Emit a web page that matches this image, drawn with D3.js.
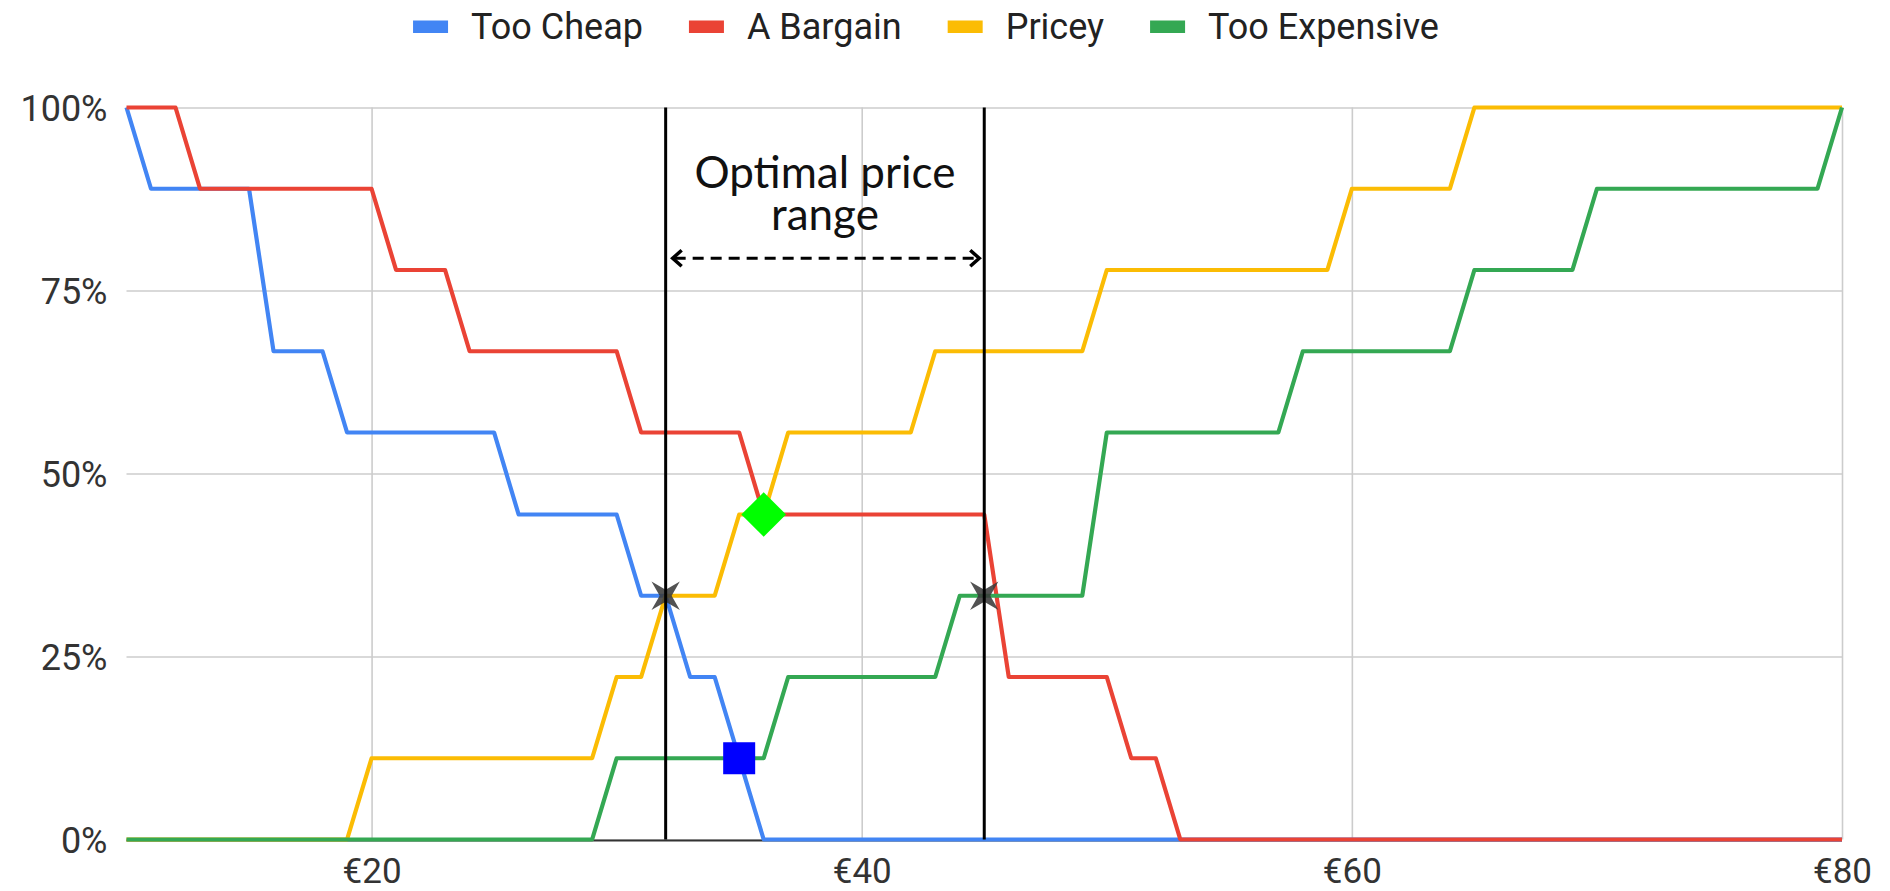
<!DOCTYPE html>
<html>
<head>
<meta charset="utf-8">
<script src="https://cdn.jsdelivr.net/npm/d3@7"></script>
<style>
  html, body { margin: 0; padding: 0; background: #ffffff; }
  svg { display: block; }
</style>
</head>
<body>
<svg id="chart" width="1890" height="891"></svg>
<script>
// ---------- DATA ----------
const prices = [10,11,12,13,14,15,16,17,18,19,20,21,22,23,24,25,26,27,28,29,30,
  31,32,33,34,35,36,37,38,39,40,41,42,43,44,45,46,47,48,49,50,
  51,52,53,54,55,56,57,58,59,60,61,62,63,64,65,66,67,68,69,70,
  71,72,73,74,75,76,77,78,79,80];

const tooCheap = [100,88.9,88.9,88.9,88.9,88.9,66.7,66.7,66.7,55.6,55.6,55.6,55.6,55.6,55.6,55.6,
  44.4,44.4,44.4,44.4,44.4,33.3,33.3,22.2,22.2,11.1,
  0,0,0,0,0,0,0,0,0,0,0,0,0,0,0,0,0,0,0,0,0,0,0,0,0,0,0,0,0,0,0,0,0,0,0,0,0,0,0,0,0,0,0,0,0];

const aBargain = [100,100,100,88.9,88.9,88.9,88.9,88.9,88.9,88.9,88.9,77.8,77.8,77.8,
  66.7,66.7,66.7,66.7,66.7,66.7,66.7,55.6,55.6,55.6,55.6,55.6,
  44.4,44.4,44.4,44.4,44.4,44.4,44.4,44.4,44.4,44.4,22.2,22.2,22.2,22.2,22.2,11.1,11.1,
  0,0,0,0,0,0,0,0,0,0,0,0,0,0,0,0,0,0,0,0,0,0,0,0,0,0,0,0];

const pricey = [0,0,0,0,0,0,0,0,0,0,11.1,11.1,11.1,11.1,11.1,11.1,11.1,11.1,11.1,11.1,
  22.2,22.2,33.3,33.3,33.3,44.4,44.4,55.6,55.6,55.6,55.6,55.6,55.6,
  66.7,66.7,66.7,66.7,66.7,66.7,66.7,77.8,77.8,77.8,77.8,77.8,77.8,77.8,77.8,77.8,77.8,
  88.9,88.9,88.9,88.9,88.9,100,100,100,100,100,100,100,100,100,100,100,100,100,100,100,100];

const tooExpensive = [0,0,0,0,0,0,0,0,0,0,0,0,0,0,0,0,0,0,0,0,
  11.1,11.1,11.1,11.1,11.1,11.1,11.1,22.2,22.2,22.2,22.2,22.2,22.2,22.2,
  33.3,33.3,33.3,33.3,33.3,33.3,55.6,55.6,55.6,55.6,55.6,55.6,55.6,55.6,
  66.7,66.7,66.7,66.7,66.7,66.7,66.7,77.8,77.8,77.8,77.8,77.8,
  88.9,88.9,88.9,88.9,88.9,88.9,88.9,88.9,88.9,88.9,100];

const seriesNames = ["Too Cheap", "A Bargain", "Pricey", "Too Expensive"];
const seriesColors = ["#4285F4", "#EA4335", "#FBBC04", "#34A853"];
const seriesValues = [tooCheap, aBargain, pricey, tooExpensive];

const yTicks = [0, 25, 50, 75, 100];
const yTickLabels = ["0%", "25%", "50%", "75%", "100%"];
const xTicks = [20, 40, 60, 80];
const xTickLabels = ["€20", "€40", "€60", "€80"];

// markers: intersection points
const starPoints = [{price: 32, value: 33.3}, {price: 45, value: 33.3}];
const diamondPoint = {price: 36, value: 44.4};
const squarePoint = {price: 35, value: 11.1};
const rangeBounds = [32, 45];
const rangeArrowValue = 79.4;
const annotationText = "Optimal price\nrange";

// ---------- LAYOUT ----------
const svg = d3.select("#chart");
const plot = {left: 126.5, right: 1842, top: 107.5, bottom: 839.5};

const x = d3.scaleLinear().domain([10, 80]).range([plot.left, plot.right]);
const y = d3.scaleLinear().domain([0, 100]).range([plot.bottom, plot.top]);

const FONT = "Roboto, 'Liberation Sans', Arial, sans-serif";

// gridlines
const gH = svg.append("g").attr("transform", `translate(${plot.left},0)`)
  .call(d3.axisLeft(y).tickValues(yTicks).tickSize(-(plot.right - plot.left)).tickFormat(""));
gH.select(".domain").remove();
gH.selectAll("line").attr("stroke", "#cccccc").attr("stroke-width", 1.6);

const gV = svg.append("g").attr("transform", `translate(0,${plot.bottom})`)
  .call(d3.axisBottom(x).tickValues(xTicks).tickSize(-(plot.bottom - plot.top)).tickFormat(""));
gV.select(".domain").remove();
gV.selectAll("line").attr("stroke", "#cccccc").attr("stroke-width", 1.6);

// baseline
svg.append("line")
  .attr("x1", plot.left).attr("x2", plot.right)
  .attr("y1", y(0) + 1).attr("y2", y(0) + 1)
  .attr("stroke", "#333333").attr("stroke-width", 2.2);

// axis labels
const yAxis = svg.append("g").attr("transform", `translate(${plot.left - 19},0)`)
  .call(d3.axisLeft(y).tickValues(yTicks).tickSize(0)
    .tickFormat((d, i) => yTickLabels[yTicks.indexOf(d)]));
yAxis.select(".domain").remove();
yAxis.selectAll("text")
  .attr("x", 0).attr("dy", "0.35em")
  .attr("fill", "#333333")
  .style("font-family", FONT).style("font-size", "36px");

const xAxis = svg.append("g").attr("transform", `translate(0,${plot.bottom})`)
  .call(d3.axisBottom(x).tickValues(xTicks).tickSize(0)
    .tickFormat(d => xTickLabels[xTicks.indexOf(d)]));
xAxis.select(".domain").remove();
xAxis.selectAll("text")
  .attr("y", 43).attr("dy", "0")
  .attr("fill", "#333333")
  .style("font-family", FONT).style("font-size", "35px");

// series lines
const line = d3.line().x(d => x(d[0])).y(d => y(d[1]));
seriesValues.forEach((vals, i) => {
  const pts = prices.map((p, j) => [p, vals[j]]);
  svg.append("path")
    .datum(pts)
    .attr("d", line)
    .attr("fill", "none")
    .attr("stroke", seriesColors[i])
    .attr("stroke-width", 4.2)
    .attr("stroke-linejoin", "round");
});

// star markers (X-shaped four point star)
function xStar(cx, cy, R, r) {
  const pts = [];
  for (let k = 0; k < 8; k++) {
    const ang = Math.PI / 4 + k * Math.PI / 4;
    const rad = k % 2 === 0 ? R : r;
    pts.push([cx + rad * Math.cos(ang), cy + rad * Math.sin(ang)]);
  }
  return "M" + pts.map(p => p.join(",")).join("L") + "Z";
}
svg.selectAll(".star").data(starPoints).enter().append("path")
  .attr("class", "star")
  .attr("d", d => xStar(x(d.price), y(d.value), 20, 6))
  .attr("fill", "#3a3a3a").attr("opacity", 0.88);

// diamond
svg.append("path")
  .attr("d", d3.symbol().type(d3.symbolSquare).size(1000)())
  .attr("transform", `translate(${x(diamondPoint.price)},${y(diamondPoint.value)}) rotate(45)`)
  .attr("fill", "#00ff00");

// square
svg.append("rect")
  .attr("x", x(squarePoint.price) - 16).attr("y", y(squarePoint.value) - 16)
  .attr("width", 32).attr("height", 32)
  .attr("fill", "#0000ff");

// vertical range lines
svg.selectAll(".vline").data(rangeBounds).enter().append("line")
  .attr("x1", d => x(d)).attr("x2", d => x(d))
  .attr("y1", y(100)).attr("y2", y(0))
  .attr("stroke", "#000000").attr("stroke-width", 3);

// dashed double arrow
const ay = y(rangeArrowValue);
const ax1 = x(rangeBounds[0]) + 7, ax2 = x(rangeBounds[1]) - 5;
svg.append("line")
  .attr("x1", ax1 + 2).attr("x2", ax2 - 2)
  .attr("y1", ay).attr("y2", ay)
  .attr("stroke", "#000").attr("stroke-width", 3)
  .attr("stroke-dasharray", "11,7");
svg.append("path")
  .attr("d", `M${ax1 + 9},${ay - 8}L${ax1},${ay}L${ax1 + 9},${ay + 8}`)
  .attr("fill", "none").attr("stroke", "#000").attr("stroke-width", 3.5);
svg.append("path")
  .attr("d", `M${ax2 - 9},${ay - 8}L${ax2},${ay}L${ax2 - 9},${ay + 8}`)
  .attr("fill", "none").attr("stroke", "#000").attr("stroke-width", 3.5);

// annotation text (single wrapped text block)
const fo = svg.append("foreignObject")
  .attr("x", x(rangeBounds[0])).attr("y", ay - 118)
  .attr("width", x(rangeBounds[1]) - x(rangeBounds[0])).attr("height", 100)
  .style("overflow", "visible");
fo.append("xhtml:div")
  .style("font-family", "Lato, 'Open Sans', sans-serif")
  .style("font-size", "44px")
  .style("line-height", "42px")
  .style("padding-top", "10px")
  .style("text-align", "center")
  .style("white-space", "pre-line")
  .style("color", "#111")
  .style("margin", "0")
  .text(annotationText);

// legend
const legend = svg.append("g");
let lx = 0;
seriesNames.forEach((name, i) => {
  const g = legend.append("g");
  g.append("rect").attr("x", lx).attr("y", 20.5).attr("width", 35).attr("height", 12.5)
    .attr("fill", seriesColors[i]);
  const t = g.append("text").attr("x", lx + 58).attr("y", 38.5)
    .attr("fill", "#222222")
    .style("font-family", FONT).style("font-size", "36px")
    .text(name);
  const w = t.node().getComputedTextLength();
  lx += 58 + w + 46;
});
const totalW = lx - 46;
legend.attr("transform", `translate(${926 - totalW / 2},0)`);
</script>
</body>
</html>
